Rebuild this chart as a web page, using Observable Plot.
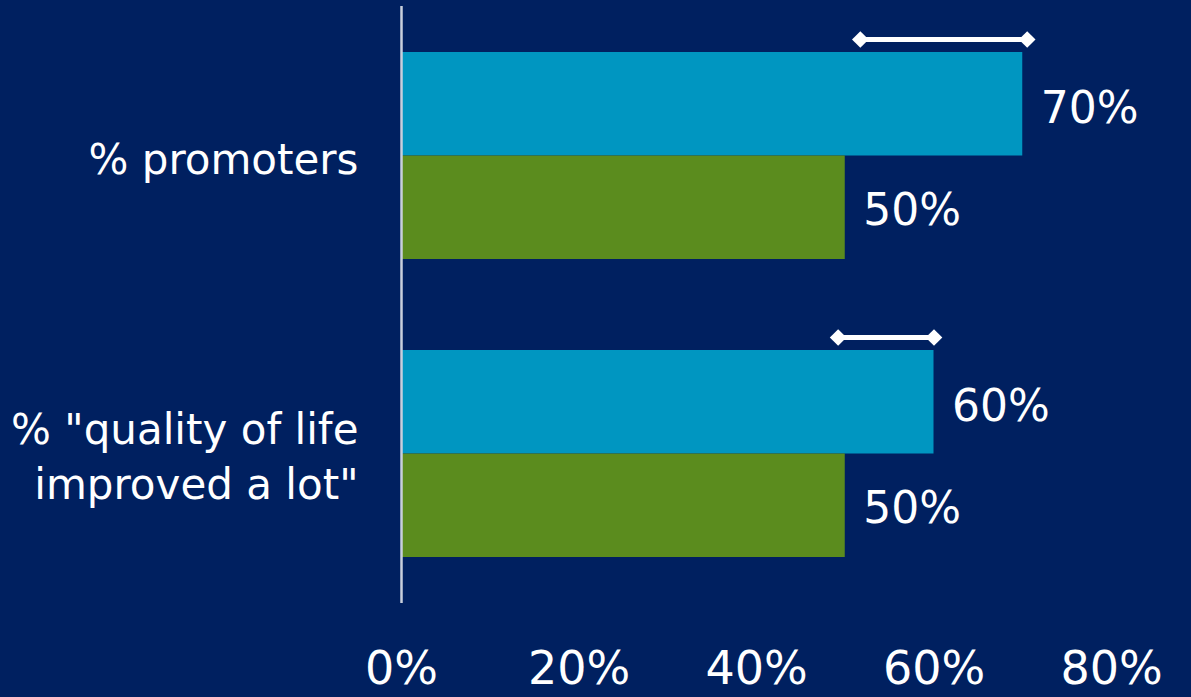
<!DOCTYPE html>
<html>
<head>
<meta charset="utf-8">
<script src="https://cdn.jsdelivr.net/npm/d3@7"></script>
<script src="https://cdn.jsdelivr.net/npm/@observablehq/plot@0.6"></script>
<style>
  html, body { margin: 0; padding: 0; background: #002060; }
  #chart svg { display: block; }
</style>
</head>
<body>
<div id="chart"></div>
<script>
// Data
const categories = ["% promoters", "% \"quality of life improved a lot\""];
const categoryLabels = ["% promoters", "% \"quality of life\nimproved a lot\""];
const seriesA = [70, 60];   // teal bars
const seriesB = [50, 50];   // green bars
const errLow = [51.7, 49.2];
const errHigh = [70.5, 60];
const xTicks = [0, 20, 40, 60, 80];

const barsA = categories.map((c, i) => ({cat: c, value: seriesA[i]}));
const barsB = categories.map((c, i) => ({cat: c, value: seriesB[i]}));
const errs = categories.map((c, i) => ({cat: c, lo: errLow[i], hi: errHigh[i]}));
const errPts = errs.flatMap(d => [{cat: d.cat, v: d.lo}, {cat: d.cat, v: d.hi}]);

const font = "'DejaVu Sans', sans-serif";
const half = 103.5;

const plot = Plot.plot({
  width: 1191,
  height: 697,
  marginLeft: 401,
  marginRight: 80,
  marginTop: 6,
  marginBottom: 94,
  style: {background: "#002060", color: "white", fontFamily: font},
  x: {domain: [0, 80]},
  y: {domain: categories, paddingInner: 0.3065, paddingOuter: 0.153},
  marks: [
    Plot.barX(barsA, {x: "value", y: "cat", fill: "#0096C1", insetBottom: half}),
    Plot.barX(barsB, {x: "value", y: "cat", fill: "#5B8C1E", insetTop: half}),
    Plot.ruleX([0], {stroke: "#c8cfdc", strokeWidth: 2.5}),
    Plot.ruleY(errs, {y: "cat", x1: "lo", x2: "hi", dy: -116.5, stroke: "white", strokeWidth: 5}),
    Plot.dot(errPts, {x: "v", y: "cat", dy: -116.5, symbol: "diamond2", r: 7.5, fill: "white", stroke: "none"}),
    Plot.text(barsA, {x: "value", y: "cat", text: d => d.value + "%", dx: 18, dy: -47, textAnchor: "start", fill: "white", fontSize: 44}),
    Plot.text(barsB, {x: "value", y: "cat", text: d => d.value + "%", dx: 18, dy: 55, textAnchor: "start", fill: "white", fontSize: 44}),
    Plot.axisX({ticks: xTicks, tickFormat: d => d + "%", tickSize: 0, tickPadding: 48, fontSize: 46, fill: "white", label: null}),
    Plot.axisY({tickSize: 0, tickPadding: 43, fontSize: 42, fill: "white", lineHeight: 1.31, label: null,
      tickFormat: d => categoryLabels[categories.indexOf(d)]})
  ]
});
document.getElementById("chart").appendChild(plot);
</script>
</body>
</html>
